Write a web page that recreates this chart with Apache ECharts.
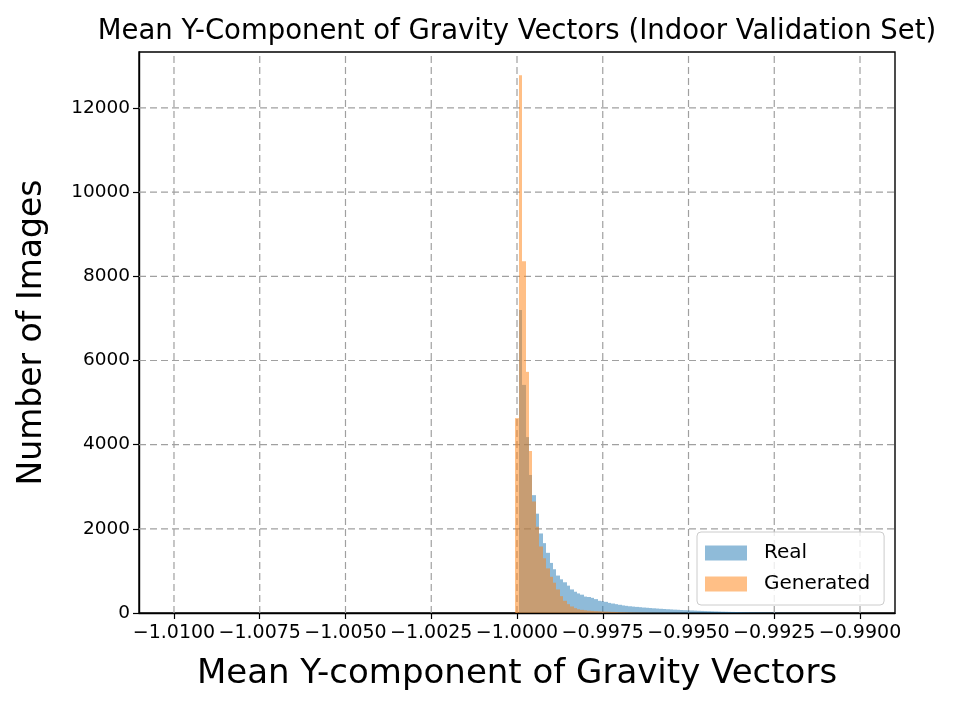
<!DOCTYPE html>
<html><head><meta charset="utf-8">
<script src="https://cdn.jsdelivr.net/npm/echarts@6/dist/echarts.min.js"></script>
<style>html,body{margin:0;padding:0;background:#fff}#c{width:953px;height:705px}</style>
</head><body><div id="c"></div>
<script>
const titleText = 'Mean Y-Component of Gravity Vectors (Indoor Validation Set)';
const xLabel = 'Mean Y-component of Gravity Vectors';
const yLabel = 'Number of Images';
const seriesNames = ['Real', 'Generated'];
const xTicks = [-1.0100, -1.0075, -1.0050, -1.0025, -1.0000, -0.9975, -0.9950, -0.9925, -0.9900];
const yTicks = [0, 2000, 4000, 6000, 8000, 10000, 12000];
const xMin = -1.01102, xMax = -0.98898, yMin = 0, yMax = 13330;
const binWidth = 0.0001;
const realBinStart = -1.00005;
const generatedBinStart = -1.00005;
const realCounts = [0, 7200, 5420, 4180, 3280, 2800, 2360, 1890, 1660, 1430,
  1190, 1040, 890, 800, 730, 650, 560, 505, 465, 435,
  390, 380, 360, 330, 290, 280, 265, 240, 225, 210,
  195, 180, 170, 160, 152, 145, 138, 130, 124, 118,
  112, 106, 100, 95, 90, 85, 80, 76, 72, 68,
  64, 60, 56, 52, 49, 46, 43, 40, 37, 34,
  31, 29, 27, 25, 23, 21, 19, 17, 15, 14,
  13, 12, 11, 10, 9, 8, 7, 6, 6, 5,
  5, 4, 4, 3, 3, 3, 2, 2, 2, 2, 1, 1, 1, 1];
const generatedCounts = [4630, 12780, 8360, 5730, 3850, 2650, 2050, 1580, 1300, 1060,
  860, 720, 560, 400, 290, 210, 155, 115, 90, 75,
  65, 55, 50, 44, 40, 36, 32, 29, 26, 23,
  20, 18, 16, 14, 12, 11, 10, 9, 8, 7,
  6, 6, 5, 5, 4, 4, 3, 3, 3, 2, 2, 2, 2, 1, 1, 1];
const realColor = 'rgba(31,119,180,0.5)';
const generatedColor = 'rgba(255,127,14,0.5)';

function toBins(start, counts) {
  return counts.map((c, i) => [start + i * binWidth, start + (i + 1) * binWidth, c]);
}
function histRenderer(color) {
  return function (params, api) {
    const a = api.coord([api.value(0), api.value(2)]);
    const b = api.coord([api.value(1), 0]);
    const x0 = Math.round(a[0]), x1 = Math.round(b[0]);
    return { type: 'rect', shape: { x: x0, y: a[1], width: x1 - x0, height: b[1] - a[1] },
      style: { fill: color } };
  };
}
const gridLineStyle = { stroke: '#a0a0a0', lineWidth: 1.2, lineDash: [7, 4] };
const font = 'DejaVu Sans';
const fmtX = v => (v < 0 ? '\u2212' : '') + Math.abs(v).toFixed(4);
const fmtY = v => String(Math.round(v));

const chart = echarts.init(document.getElementById('c'), null, { renderer: 'canvas' });
chart.setOption({
  animation: false,
  backgroundColor: '#fff',
  title: { text: titleText, left: 512, top: 13, textAlign: 'center',
    textStyle: { fontFamily: font, fontSize: 27.5, fontWeight: 'normal', color: '#000' } },
  grid: { left: 139, right: 58, top: 52, bottom: 92, show: true, borderColor: '#000', borderWidth: 1.4, backgroundColor: 'transparent' },
  legend: {
    data: seriesNames, orient: 'vertical', left: 697, top: 532,
    icon: 'rect', itemWidth: 42, itemHeight: 15, itemGap: 11,
    padding: [11, 14, 11, 8],
    backgroundColor: 'rgba(255,255,255,0.8)', borderColor: '#cccccc', borderWidth: 1, borderRadius: 4,
    textStyle: { fontFamily: font, fontSize: 20, color: '#000', padding: [0, 0, 0, 12] }
  },
  xAxis: {
    type: 'value', min: xMin, max: xMax,
    name: xLabel, nameLocation: 'middle', nameGap: 44,
    nameTextStyle: { fontFamily: font, fontSize: 34, color: '#000' },
    axisLine: { show: true, lineStyle: { color: '#000', width: 1.4 } },
    axisTick: { show: true, customValues: xTicks, length: 6, lineStyle: { color: '#000', width: 1.2 } },
    axisLabel: { customValues: xTicks, formatter: fmtX, margin: 11, fontFamily: font, fontSize: 19, color: '#000' },
    splitLine: { show: false }
  },
  yAxis: {
    type: 'value', min: yMin, max: yMax,
    name: yLabel, nameLocation: 'middle', nameGap: 90,
    nameTextStyle: { fontFamily: font, fontSize: 33, color: '#000' },
    axisLine: { show: true, lineStyle: { color: '#000', width: 1.4 } },
    axisTick: { show: true, customValues: yTicks, length: 6, lineStyle: { color: '#000', width: 1.2 } },
    axisLabel: { customValues: yTicks, formatter: fmtY, margin: 9, fontFamily: font, fontSize: 18.5, color: '#000' },
    splitLine: { show: false }
  },
  series: [
    { type: 'custom', name: 'xgrid', silent: true, z: 1, encode: { x: 0, y: 1 },
      data: xTicks.map(v => [v, 0]),
      renderItem: (params, api) => {
        const a = api.coord([api.value(0), yMin]);
        const b = api.coord([api.value(0), yMax]);
        return { type: 'line', shape: { x1: a[0], y1: a[1], x2: b[0], y2: b[1] }, style: gridLineStyle };
      } },
    { type: 'custom', name: 'ygrid', silent: true, z: 1, encode: { x: 0, y: 1 },
      data: yTicks.filter(v => v > yMin).map(v => [xMin, v]),
      renderItem: (params, api) => {
        const a = api.coord([xMin, api.value(1)]);
        const b = api.coord([xMax, api.value(1)]);
        return { type: 'line', shape: { x1: a[0], y1: a[1], x2: b[0], y2: b[1] }, style: gridLineStyle };
      } },
    { type: 'custom', name: seriesNames[0], z: 2, encode: { x: [0, 1], y: 2 },
      itemStyle: { color: realColor }, data: toBins(realBinStart, realCounts), renderItem: histRenderer(realColor) },
    { type: 'custom', name: seriesNames[1], z: 3, encode: { x: [0, 1], y: 2 },
      itemStyle: { color: generatedColor }, data: toBins(generatedBinStart, generatedCounts), renderItem: histRenderer(generatedColor) }
  ]
});
</script></body></html>
